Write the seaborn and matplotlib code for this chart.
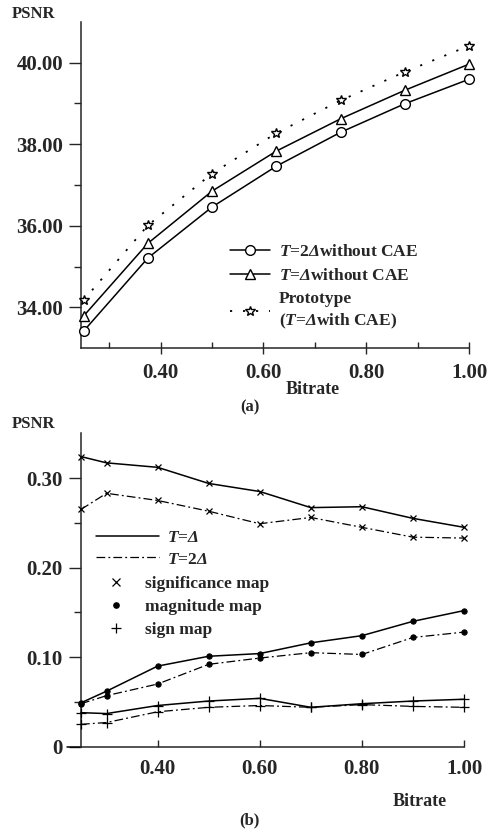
import numpy as np
import pandas as pd
import matplotlib
matplotlib.use("Agg")
import matplotlib.pyplot as plt
from matplotlib.lines import Line2D
import seaborn as sns

# ---------------- data ----------------
bitrate_a = [0.25, 0.375, 0.5, 0.625, 0.75, 0.875, 1.0]
psnr_t2_wo = [33.42, 35.21, 36.46, 37.46, 38.29, 38.99, 39.59]
psnr_t1_wo = [33.79, 35.57, 36.85, 37.83, 38.62, 39.32, 39.96]
psnr_proto = [34.18, 36.01, 37.28, 38.27, 39.07, 39.77, 40.41]

bitrate_b = [0.25, 0.30, 0.40, 0.50, 0.60, 0.70, 0.80, 0.90, 1.00]
sig_t1 = [0.324, 0.317, 0.312, 0.294, 0.285, 0.267, 0.268, 0.255, 0.245]
sig_t2 = [0.265, 0.283, 0.275, 0.263, 0.249, 0.256, 0.245, 0.234, 0.233]
mag_t1 = [0.049, 0.062, 0.090, 0.101, 0.104, 0.116, 0.124, 0.140, 0.152]
mag_t2 = [0.048, 0.057, 0.070, 0.092, 0.099, 0.105, 0.103, 0.122, 0.128]
sgn_t1 = [0.038, 0.037, 0.046, 0.051, 0.054, 0.044, 0.048, 0.051, 0.053]
sgn_t2 = [0.025, 0.027, 0.039, 0.044, 0.046, 0.044, 0.047, 0.045, 0.044]

xticks_a = [0.40, 0.60, 0.80, 1.00]
yticks_a = [34, 36, 38, 40]
xticks_b = [0.40, 0.60, 0.80, 1.00]
yticks_b = [0.0, 0.10, 0.20, 0.30]
ytick_labels_b = ["0", "0.10", "0.20", "0.30"]

# ---------------- style ----------------
sns.set_theme(style="ticks")
plt.rcParams["font.family"] = ["Liberation Serif", "DejaVu Serif"]
plt.rcParams["font.weight"] = "bold"
plt.rcParams["mathtext.fontset"] = "custom"
plt.rcParams["mathtext.rm"] = "Liberation Serif:italic"
plt.rcParams["mathtext.it"] = "Liberation Serif:italic"
plt.rcParams["mathtext.bf"] = "Liberation Serif:bold:italic"
plt.rcParams["axes.linewidth"] = 1.1

W, H = 487, 830
fig = plt.figure(figsize=(W / 100, H / 100), dpi=100)

def fx(px):
    return px / W

def fy(py):
    return 1 - py / H

ax_a = fig.add_axes([fx(81), fy(348.3), (469 - 81) / W, (348.3 - 21.7) / H])
ax_b = fig.add_axes([fx(81), fy(746.7), (464 - 81) / W, (746.7 - 433.3) / H])

# ---------------- panel (a) ----------------
dfa = pd.DataFrame({"bitrate": bitrate_a, "t2": psnr_t2_wo, "t1": psnr_t1_wo, "proto": psnr_proto})
sns.lineplot(data=dfa, x="bitrate", y="t2", ax=ax_a, color="black", lw=1.1,
             marker="o", markersize=7, markerfacecolor="white", markeredgecolor="black",
             markeredgewidth=1.0, clip_on=False, zorder=3)
sns.lineplot(data=dfa, x="bitrate", y="t1", ax=ax_a, color="black", lw=1.1,
             marker="^", markersize=6.5, markerfacecolor="white", markeredgecolor="black",
             markeredgewidth=1.0, clip_on=False, zorder=3)
sns.lineplot(data=dfa, x="bitrate", y="proto", ax=ax_a, color="black", lw=1.3,
             linestyle=(0, (1.2, 6)), marker="*", markersize=7.5, markerfacecolor="white",
             markeredgecolor="black", markeredgewidth=1.0, clip_on=False, zorder=3)

ax_a.set_xlim(0.245, 1.0)
ax_a.set_ylim(33, 41)
ax_a.set_xticks(xticks_a)
ax_a.set_xticklabels([f"{v:.2f}" for v in xticks_a])
ax_a.set_xticks([0.3, 0.5, 0.7, 0.9], minor=True)
ax_a.set_yticks(yticks_a)
ax_a.set_yticklabels([f"{v:.2f}" for v in yticks_a])
ax_a.set_yticks([35, 37, 39], minor=True)
ax_a.tick_params(axis="y", which="major", direction="out", length=9, width=1, pad=4, labelsize=15)
ax_a.tick_params(axis="y", which="minor", direction="out", length=5, width=1)
ax_a.tick_params(axis="x", which="major", direction="inout", length=9, width=1, pad=6, labelsize=15)
ax_a.tick_params(axis="x", which="minor", direction="in", length=4, width=1)
ax_a.set_xlabel("")
ax_a.set_ylabel("")
sns.despine(ax=ax_a)

leg_a_handles = [
    Line2D([], [], color="black", lw=1.1, marker="o", markersize=7, mfc="white", mec="black"),
    Line2D([], [], color="black", lw=1.1, marker="^", markersize=6.5, mfc="white", mec="black"),
    Line2D([], [], color="black", lw=1.3, linestyle=(0, (1.2, 6)), marker="*", markersize=7.5,
           mfc="white", mec="black", mew=1.0),
]
leg_a_labels = [
    r"$T$=2$\Delta$without CAE",
    r"$T$=$\Delta$without CAE",
    "Prototype\n(" + r"$T$=$\Delta$with CAE)",
]
leg_a = ax_a.legend(leg_a_handles, leg_a_labels, loc="upper left",
                    bbox_to_anchor=(fx(230), fy(244)), bbox_transform=fig.transFigure,
                    frameon=False, borderpad=0, borderaxespad=0, handlelength=2.3,
                    handletextpad=0.5, labelspacing=0.42, prop={"size": 12.5, "weight": "bold"})
for t in leg_a.get_texts():
    t.set_linespacing(1.35)

fig.text(fx(12), fy(14), "PSNR", fontsize=12, fontweight="bold", ha="left", va="center")
fig.text(fx(313), fy(389), "Bitrate", fontsize=13, fontweight="bold", ha="center", va="center")
fig.text(fx(250), fy(407), "(a)", fontsize=12, fontweight="bold", ha="center", va="center")

# ---------------- panel (b) ----------------
dfb = pd.DataFrame({"bitrate": bitrate_b, "sig_t1": sig_t1, "sig_t2": sig_t2,
                    "mag_t1": mag_t1, "mag_t2": mag_t2, "sgn_t1": sgn_t1, "sgn_t2": sgn_t2})
dd = (0, (7, 2.5, 1.5, 2.5))
solid = dict(color="black", lw=1.1, clip_on=False, zorder=3)
dashdot = dict(color="black", lw=0.9, linestyle=dd, clip_on=False, zorder=3)
mk = {"sig": dict(marker="x", markersize=4.2, markeredgewidth=0.9, markeredgecolor="black"),
      "mag": dict(marker="o", markersize=3.8, markerfacecolor="black", markeredgecolor="black"),
      "sgn": dict(marker="+", markersize=6.5, markeredgewidth=0.9, markeredgecolor="black")}
for key in ["sig", "mag", "sgn"]:
    sns.lineplot(data=dfb, x="bitrate", y=f"{key}_t1", ax=ax_b, **solid, **mk[key])
    sns.lineplot(data=dfb, x="bitrate", y=f"{key}_t2", ax=ax_b, **dashdot, **mk[key])

ax_b.set_xlim(0.25, 1.0)
ax_b.set_ylim(0, 0.35)
ax_b.set_xticks(xticks_b)
ax_b.set_xticklabels([f"{v:.2f}" for v in xticks_b])
ax_b.set_yticks(yticks_b)
ax_b.set_yticklabels(ytick_labels_b)
ax_b.set_yticks([0.05, 0.15, 0.25], minor=True)
ax_b.tick_params(axis="y", which="major", direction="out", length=9, width=1, pad=4, labelsize=15)
ax_b.tick_params(axis="y", which="minor", direction="out", length=5, width=1)
ax_b.tick_params(axis="x", which="major", direction="in", length=5, width=1, pad=9, labelsize=15)
ax_b.set_xlabel("")
ax_b.set_ylabel("")
sns.despine(ax=ax_b)
# bottom axis line extends a little to the left of the y axis
ax_b.plot([-14 / 383, 0], [0, 0], transform=ax_b.transAxes, color="black", lw=1.1, clip_on=False)

line_handles = [Line2D([], [], color="black", lw=1.1),
                Line2D([], [], color="black", lw=0.9, linestyle=dd)]
line_labels = [r"$T$=$\Delta$", r"$T$=2$\Delta$"]
leg_b1 = ax_b.legend(line_handles, line_labels, loc="upper left",
                     bbox_to_anchor=(fx(96), fy(530)), bbox_transform=fig.transFigure,
                     frameon=False, borderpad=0, borderaxespad=0, handlelength=3.6,
                     handletextpad=0.5, labelspacing=0.3, prop={"size": 12.5, "weight": "bold"})
ax_b.add_artist(leg_b1)
mark_handles = [Line2D([], [], lw=0, color="black", marker="x", markersize=6, markeredgewidth=0.9),
                Line2D([], [], lw=0, color="black", **mk["mag"]),
                Line2D([], [], lw=0, color="black", **mk["sgn"])]
mark_labels = ["significance map", "magnitude map", "sign map"]
ax_b.legend(mark_handles, mark_labels, loc="upper left",
            bbox_to_anchor=(fx(100), fy(576)), bbox_transform=fig.transFigure,
            frameon=False, borderpad=0, borderaxespad=0, handlelength=1.8,
            handletextpad=0.8, labelspacing=0.38, prop={"size": 12.5, "weight": "bold"})

fig.text(fx(12), fy(424), "PSNR", fontsize=12, fontweight="bold", ha="left", va="center")
fig.text(fx(420), fy(801), "Bitrate", fontsize=13, fontweight="bold", ha="center", va="center")
fig.text(fx(249), fy(820), "(b)", fontsize=12, fontweight="bold", ha="center", va="center")

fig.savefig("out.png", dpi=100)
